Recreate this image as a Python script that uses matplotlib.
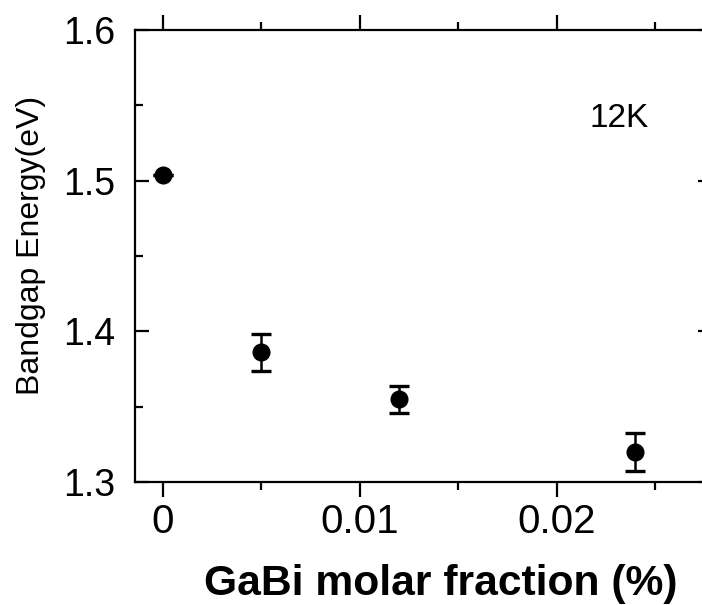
import matplotlib
matplotlib.use('Agg')
import matplotlib.pyplot as plt
from matplotlib.ticker import MultipleLocator, FixedLocator, FixedFormatter

plt.rcParams['font.family'] = ['Liberation Sans', 'DejaVu Sans']

# GaBi fraction vs. bandgap at 12 K
fraction = [0.0, 0.005, 0.012, 0.024]
bandgap = [1.504, 1.386, 1.355, 1.320]
bandgap_err = [0.0, 0.0125, 0.009, 0.0126]

xtick_pos = [0.0, 0.01, 0.02]
xtick_labels = ['0', '0.01', '0.02']
ytick_pos = [1.3, 1.4, 1.5, 1.6]
ytick_labels = ['1.3', '1.4', '1.5', '1.6']

fig = plt.figure(figsize=(7.02, 6.05), dpi=100)
ax = fig.add_axes([135 / 702, 123 / 605, 577 / 702, 452 / 605])

ax.errorbar(fraction, bandgap, yerr=bandgap_err, fmt='o', color='black',
            markersize=12, elinewidth=1.8, capsize=7.5, capthick=2.4)

ax.set_xlim(-0.00142, 0.0279)
ax.set_ylim(1.3, 1.6)

ax.xaxis.set_major_locator(FixedLocator(xtick_pos))
ax.xaxis.set_major_formatter(FixedFormatter(xtick_labels))
ax.xaxis.set_minor_locator(MultipleLocator(0.005))
ax.yaxis.set_major_locator(FixedLocator(ytick_pos))
ax.yaxis.set_major_formatter(FixedFormatter(ytick_labels))
ax.yaxis.set_minor_locator(MultipleLocator(0.05))

# outward ticks on x (top and bottom), inward ticks on y (left and right)
ax.tick_params(axis='x', which='both', direction='out', top=True, bottom=True,
               width=1.6, labelsize=29, pad=4)
ax.tick_params(axis='x', which='major', length=11)
ax.tick_params(axis='x', which='minor', length=6)
ax.tick_params(axis='y', which='both', direction='in', left=True, right=True,
               width=1.6, labelsize=27, pad=14)
ax.tick_params(axis='y', which='major', length=10)
ax.tick_params(axis='y', which='minor', length=6)

for s in ax.spines.values():
    s.set_linewidth(1.6)

ax.text(0.02317, 1.5356, '12K', fontsize=24, ha='center', va='baseline')

fig.text(31 / 702, 1 - 245 / 605, 'Bandgap Energy(eV)', rotation=90,
         fontsize=23, ha='center', va='center')
fig.text(441 / 702, 1 - 595 / 605, 'GaBi molar fraction (%)', fontsize=30.7,
         fontweight='bold', ha='center', va='baseline')

fig.savefig('out.png', dpi=100)
